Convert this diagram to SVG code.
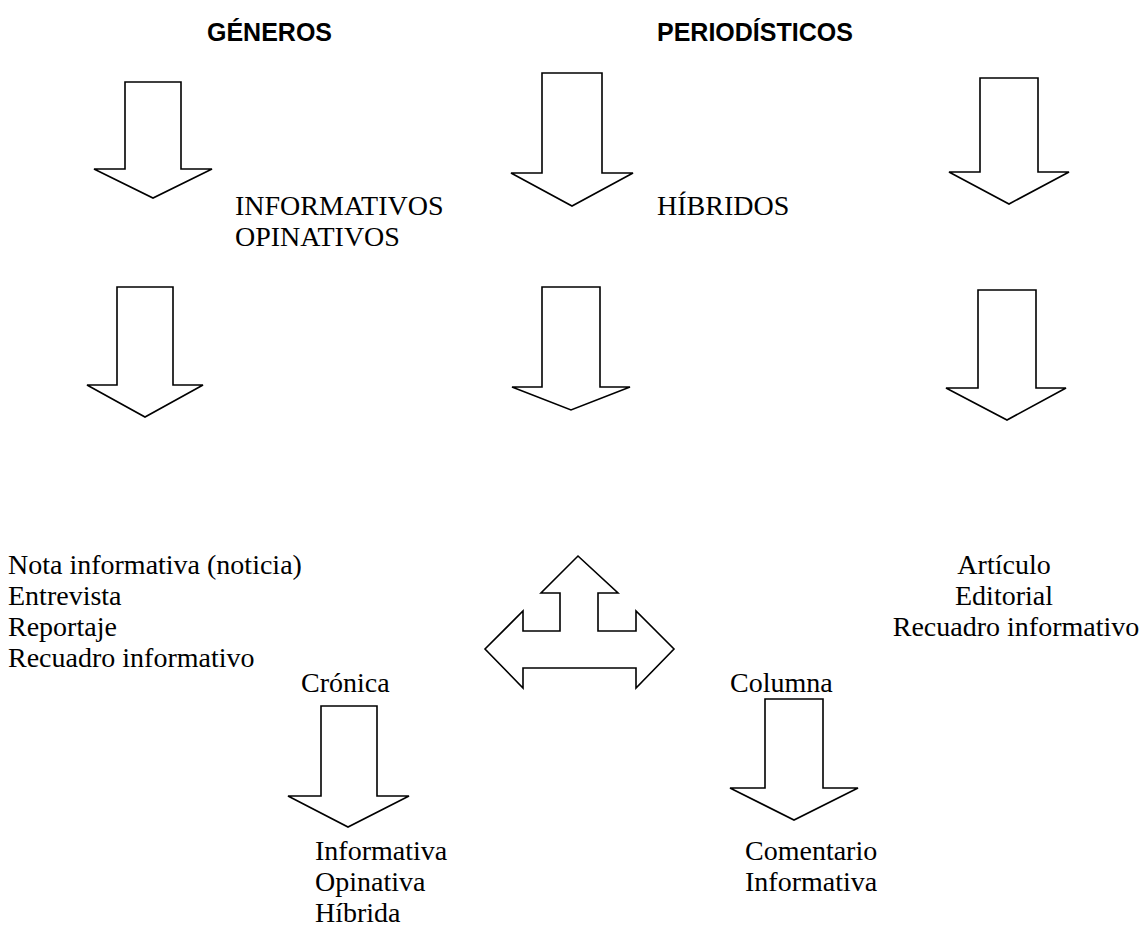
<svg xmlns="http://www.w3.org/2000/svg" width="1141" height="950" viewBox="0 0 1141 950">
<style>
.a{fill:#fff;stroke:#000;stroke-width:1.6;stroke-linejoin:miter}
.t{font-family:"Liberation Serif","Times New Roman",serif;font-size:28px;fill:#000}
.h{font-family:"Liberation Sans",Arial,sans-serif;font-size:25px;font-weight:bold;fill:#000}
</style>
<rect width="1141" height="950" fill="#fff"/>
<g id="titles">
<text class="h" x="207" y="41">GÉNEROS</text>
<text class="h" x="657" y="41">PERIODÍSTICOS</text>
</g>
<g id="connectors">
<polygon class="a" points="125,82 181,82 181,169 212,169 153,198 94,169 125,169"/>
<polygon class="a" points="542,73 602,73 602,173 633,173 572,206 511,173 542,173"/>
<polygon class="a" points="980,78 1038,78 1038,172 1069,172 1009,204 949,172 980,172"/>
<polygon class="a" points="117,287 173,287 173,385 203,385 145,417 87,385 117,385"/>
<polygon class="a" points="542,287 600,287 600,387 630,387 571,410 512,387 542,387"/>
<polygon class="a" points="978,290 1036,290 1036,388 1066,388 1007,420 946,388 978,388"/>
<polygon class="a" points="578,556 618,593 598,593 598,631 636,631 636,611 674,649 636,688 636,668 523,668 523,688 485,649 523,611 523,631 560,631 560,593 541,593"/>
<polygon class="a" points="321,706 377,706 377,796 409,796 348,827 288,796 321,796"/>
<polygon class="a" points="765,699 823,699 823,788 858,788 794,820 730,788 765,788"/>
</g>
<g id="mid-labels">
<text class="t" x="235" y="215">INFORMATIVOS</text>
<text class="t" x="235" y="246">OPINATIVOS</text>
<text class="t" x="657" y="215">HÍBRIDOS</text>
</g>
<g id="informativos">
<text class="t" x="8" y="574">Nota informativa (noticia)</text>
<text class="t" x="8" y="605">Entrevista</text>
<text class="t" x="8" y="636">Reportaje</text>
<text class="t" x="8" y="667">Recuadro informativo</text>
</g>
<g id="opinativos" text-anchor="middle">
<text class="t" x="1004" y="574">Artículo</text>
<text class="t" x="1004" y="605">Editorial</text>
<text class="t" x="1016" y="636">Recuadro informativo</text>
</g>
<g id="cronica">
<text class="t" x="301" y="692">Crónica</text>
<text class="t" x="315" y="860">Informativa</text>
<text class="t" x="315" y="891">Opinativa</text>
<text class="t" x="315" y="922">Híbrida</text>
</g>
<g id="columna">
<text class="t" x="730" y="692">Columna</text>
<text class="t" x="745" y="860">Comentario</text>
<text class="t" x="745" y="891">Informativa</text>
</g>
</svg>
